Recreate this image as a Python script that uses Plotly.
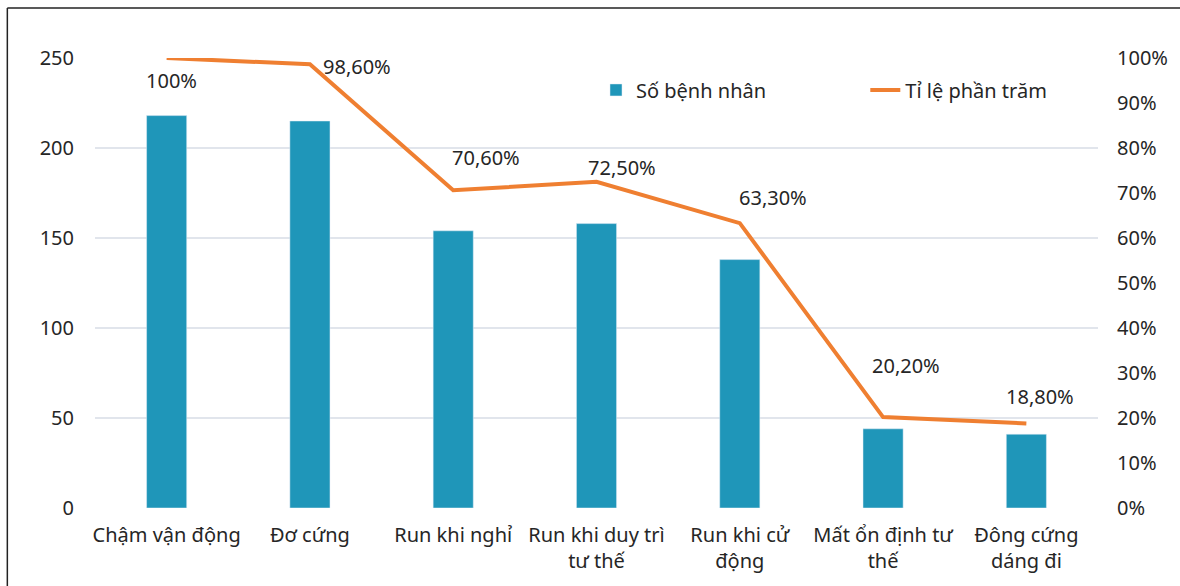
import plotly.graph_objects as go

categories = ["Chậm vận động", "Đơ cứng", "Run khi nghỉ", "Run khi duy trì tư thế",
              "Run khi cử động", "Mất ổn định tư thế", "Đông cứng dáng đi"]
tick_labels = ["Chậm vận động", "Đơ cứng", "Run khi nghỉ", "Run khi duy trì<br>tư thế",
               "Run khi cử<br>động", "Mất ổn định tư<br>thế", "Đông cứng<br>dáng đi"]
patients = [218, 215, 154, 158, 138, 44, 41]
percent = [100, 98.6, 70.6, 72.5, 63.3, 20.2, 18.8]
percent_labels = ["100%", "98,60%", "70,60%", "72,50%", "63,30%", "20,20%", "18,80%"]
left_ticks = [0, 50, 100, 150, 200, 250]
right_ticks = [0, 10, 20, 30, 40, 50, 60, 70, 80, 90, 100]
right_tick_text = ["0%", "10%", "20%", "30%", "40%", "50%", "60%", "70%", "80%", "90%", "100%"]

# label offsets in screen pixels (dx right, dy down) from the line point
label_shift = [(5, 22), (47, 2), (33, -33), (25, -14), (33, -26), (23, -52), (14, -27)]

FONT = "Noto Sans"
TXT = "#262626"
FS = 20

fig = go.Figure()
fig.add_trace(go.Bar(x=categories, y=patients, name="Số bệnh nhân",
                     marker_color="#1f96b9", yaxis="y", legend="legend"))
fig.add_trace(go.Scatter(x=categories, y=percent, name="Tỉ lệ phần trăm", mode="lines",
                         line=dict(color="#ef7f31", width=4), yaxis="y2", legend="legend2"))

for c, p, t, (dx, dy) in zip(categories, percent, percent_labels, label_shift):
    fig.add_annotation(x=c, y=p, yref="y2", text=t, showarrow=False,
                       xshift=dx, yshift=-dy, font=dict(family=FONT, size=FS, color=TXT))

# outer frame: only top and left edges are visible in the picture
frame = dict(color="#222222", width=1.5)
fig.add_shape(type="line", xref="paper", yref="paper", x0=-0.0874, x1=1.2, y0=1.111, y1=1.111, line=frame)
fig.add_shape(type="line", xref="paper", yref="paper", x0=-0.0874, x1=-0.0874, y0=1.111, y1=-0.3, line=frame)

leg_common = dict(orientation="h", yanchor="middle", xanchor="left", y=0.929,
                  font=dict(family=FONT, size=FS, color=TXT), bgcolor="rgba(0,0,0,0)")

fig.update_layout(
    width=1180, height=586,
    margin=dict(l=95, r=78, t=58, b=78),
    paper_bgcolor="white", plot_bgcolor="white",
    font=dict(family=FONT, size=FS, color=TXT),
    bargap=0.72,
    showlegend=True,
    legend=dict(x=0.4995, **leg_common),
    legend2=dict(x=0.768, **leg_common),
    xaxis=dict(tickmode="array", tickvals=categories, ticktext=tick_labels,
               showgrid=False, showline=False, ticks="", ticklabelstandoff=13),
    yaxis=dict(range=[0, 250], tickvals=left_ticks, showgrid=True, gridcolor="#e1e5ec",
               gridwidth=1.5, zeroline=False, showline=False, ticks="", ticklabelstandoff=20),
    yaxis2=dict(range=[0, 100], tickmode="array", tickvals=right_ticks, ticktext=right_tick_text,
                overlaying="y", side="right", showgrid=False, zeroline=False, showline=False,
                ticks="", ticklabelstandoff=18),
)

fig.write_html("out.html", config={"displayModeBar": False},
               post_script="document.body.style.margin='0';")
